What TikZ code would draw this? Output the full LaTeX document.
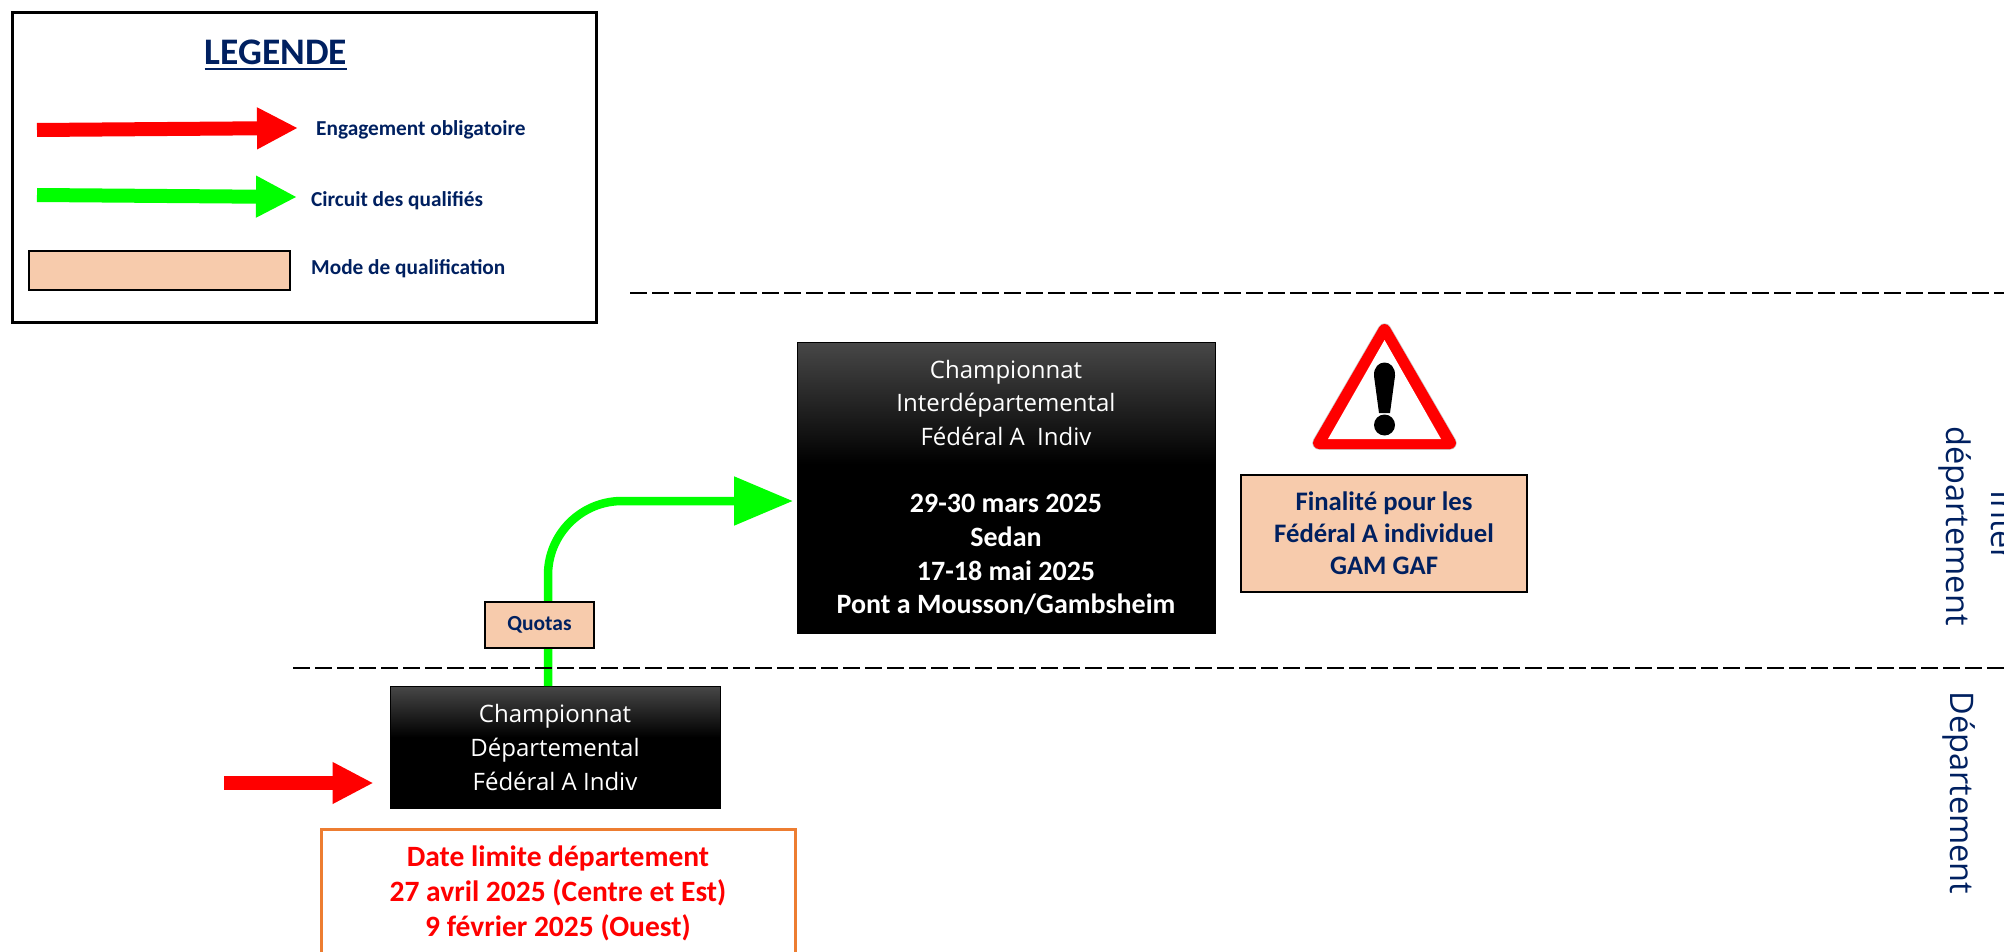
\documentclass[tikz,border=0pt]{standalone}
\usepackage{fontspec}
\setmainfont{Carlito}
\newfontfamily\boxfont{Open Sans}
\usetikzlibrary{arrows.meta}
\definecolor{navy}{HTML}{002060}
\definecolor{peach}{HTML}{F7CBAC}
\definecolor{datered}{HTML}{FF0000}
\definecolor{dateline}{HTML}{ED7D31}
\definecolor{routegreen}{HTML}{00FF00}
\pgfdeclareverticalshading{boxfade}{100bp}{color(0bp)=(black);color(54bp)=(black);color(75bp)=(black!72);color(100bp)=(black!72)}
\newcommand{\plainline}[1]{{\boxfont\mdseries\fontsize{24}{33.7}\selectfont #1}}
\tikzset{
    redarrow/.style={line width=14pt,red,-{Triangle[length=41pt,width=39pt]}},
    greenarrow/.style={line width=14pt,routegreen,-{Triangle[length=41pt,width=39pt]}},
    peachbox/.style={draw=black,line width=1.5pt,fill=peach,text=navy,align=center,inner sep=0pt},
    blackbox/.style={draw=black,shading=boxfade,text=white,align=center,inner sep=0pt},
    legendtext/.style={anchor=west,text=navy,inner sep=0pt,font=\fontsize{21.3}{24}\selectfont\bfseries},
    levelline/.style={line width=2.4pt,dash pattern=on 17pt off 5pt},
    leveltext/.style={rotate=-90,text=navy,align=center,inner sep=0pt}
}
\begin{document}
\begin{tikzpicture}[x=1pt,y=-1pt]
    \clip (0,0) rectangle (2004,952);
    % legende
    \node[draw=black,line width=3pt,minimum width=584pt,minimum height=309pt,inner sep=0pt] (legendBox) at (304,167.5) {};
    \node[text=navy,inner sep=0pt,font=\fontsize{37.5}{44}\selectfont\bfseries] (legendTitle) at (276,52) {LEGENDE};
    \draw[navy,line width=2pt] (legendTitle.south west |- 0,69.5) -- (legendTitle.south east |- 0,69.5);
    \coordinate (legendRedStart) at (37,130);
    \coordinate (legendRedTip) at (298,128);
    \coordinate (legendGreenStart) at (37,195);
    \coordinate (legendGreenTip) at (297,197);
    \draw[redarrow] (legendRedStart) -- (legendRedTip);
    \draw[greenarrow] (legendGreenStart) -- (legendGreenTip);
    \node[legendtext] (legendRedText) at (316,130) {Engagement obligatoire};
    \node[legendtext] (legendGreenText) at (311,201) {Circuit des qualifiés};
    \node[peachbox,minimum width=261pt,minimum height=39pt] (legendPeach) at (159.5,270.5) {};
    \node[legendtext] (legendPeachText) at (311,269) {Mode de qualification};
    % niveaux
    \coordinate (topLineStart) at (630,293);
    \coordinate (topLineEnd) at (2004,293);
    \coordinate (lowLineStart) at (293,668);
    \coordinate (lowLineEnd) at (2004,668);
    % boites
    \node[blackbox,minimum width=330pt,minimum height=122pt,font=\boxfont\fontsize{24}{34}\selectfont] (deptBox) at (555,747) {Championnat\\Départemental\\Fédéral A Indiv};
    \node[blackbox,minimum width=418pt,minimum height=291pt,font=\fontsize{28}{33.7}\selectfont\bfseries] (interBox) at (1006,487.5)
        {\plainline{Championnat}\\\plainline{Interdépartemental}\\\plainline{Fédéral A\ \ Indiv}\\[33.7pt]
        29-30 mars 2025\\Sedan\\17-18 mai 2025\\Pont a Mousson/Gambsheim};
    % fleches
    \coordinate (routeStart) at (548,686);
    \coordinate (routeCorner) at (548,501);
    \coordinate (routeTip) at (793,501);
    \draw[routegreen,line width=8.5pt,rounded corners=74pt,-{Triangle[length=59pt,width=47pt]}] (routeStart) -- (routeCorner) -- (routeTip);
    \coordinate (deptArrowStart) at (224,783);
    \coordinate (deptArrowTip) at (373.5,783);
    \draw[redarrow] (deptArrowStart) -- (deptArrowTip);
    \draw[levelline] (topLineStart) -- (topLineEnd);
    \draw[levelline] (lowLineStart) -- (lowLineEnd);
    \node[peachbox,minimum width=109pt,minimum height=46pt,font=\fontsize{21.5}{24}\selectfont\bfseries] (quotasBox) at (539.5,625) {Quotas};
    \node[draw=dateline,line width=3pt,minimum width=474pt,minimum height=128pt,text=datered,align=center,inner sep=0pt,font=\fontsize{29.5}{35}\selectfont\bfseries] (dateBox) at (558,893) {Date limite département\\27 avril 2025 (Centre et Est)\\9 février 2025 (Ouest)};
    % panneau
    \draw[gray!40,line width=13.5pt,line join=round] (1384.5,330) -- (1450,443) -- (1319,443) -- cycle;
    \filldraw[red,line width=12pt,line join=round] (1384.5,330) -- (1450,443) -- (1319,443) -- cycle;
    \fill[white] (1384.5,340) -- (1441,439) -- (1328,439) -- cycle;
    \fill[black] (1379,413) -- (1374,376) .. controls (1373,358) and (1396,358) .. (1395,376) -- (1390,413) -- cycle;
    \fill[black] (1384.5,425) circle (10.5);
    \node[peachbox,minimum width=286pt,minimum height=117pt,font=\fontsize{26.7}{32}\selectfont\bfseries] (finalBox) at (1384,533.5) {Finalité pour les\\Fédéral A individuel\\GAM GAF};
    % textes de niveau
    \node[leveltext,font=\boxfont\fontsize{32.5}{45}\selectfont] (interLevel) at (1977,526) {Inter\\département};
    \node[leveltext,font=\boxfont\fontsize{32.5}{45}\selectfont] (deptLevel) at (1959,793) {Département};
\end{tikzpicture}
\end{document}
